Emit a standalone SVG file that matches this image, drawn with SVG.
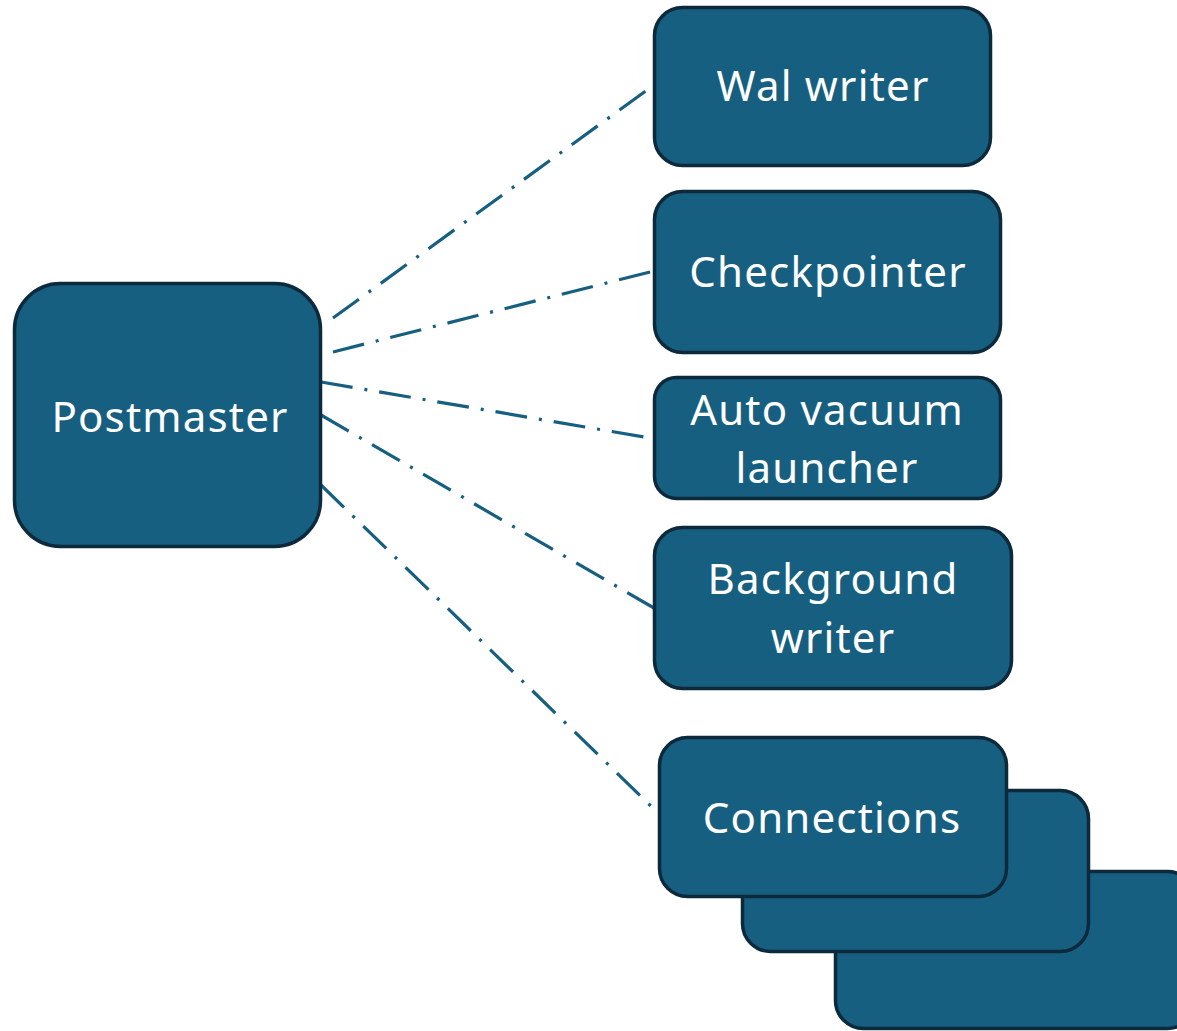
<svg xmlns="http://www.w3.org/2000/svg" width="1177" height="1031" viewBox="0 0 1177 1031">
  <style>
    .box { fill: #175f80; stroke: #0c2a3b; stroke-width: 3.5; }
    .lbl { fill: #ffffff; font-family: "Noto Sans", "Open Sans", sans-serif; font-size: 42px; letter-spacing: 1.2px; text-anchor: middle; }
    .link { stroke: #175f80; stroke-width: 3.2; fill: none; stroke-dasharray: 32 12 3 12; }
  </style>
  <rect width="1177" height="1031" fill="#ffffff"/>

  <!-- dash-dot links from the postmaster to each child process -->
  <g id="connectors">
    <line class="link" x1="333" y1="318" x2="654" y2="85"/>
    <line class="link" x1="333" y1="352" x2="654" y2="271"/>
    <line class="link" x1="321" y1="382" x2="650" y2="438"/>
    <line class="link" x1="321" y1="415" x2="654" y2="608"/>
    <line class="link" x1="321" y1="485" x2="657" y2="812"/>
  </g>

  <g id="postmaster">
    <rect class="box" x="14.5" y="283.5" width="306" height="263" rx="46"/>
    <text class="lbl" x="170" y="432">Postmaster</text>
  </g>

  <g id="wal-writer">
    <rect class="box" x="654.5" y="7.5" width="336" height="158" rx="28"/>
    <text class="lbl" x="823" y="101">Wal writer</text>
  </g>

  <g id="checkpointer">
    <rect class="box" x="654.5" y="191.5" width="346" height="161" rx="28"/>
    <text class="lbl" x="828" y="287">Checkpointer</text>
  </g>

  <g id="autovacuum-launcher">
    <rect class="box" x="654.5" y="377.5" width="346" height="121" rx="22"/>
    <text class="lbl" x="827" y="425">Auto vacuum</text>
    <text class="lbl" x="827" y="483">launcher</text>
  </g>

  <g id="background-writer">
    <rect class="box" x="654.5" y="527.5" width="357" height="161" rx="28"/>
    <text class="lbl" x="833" y="594">Background</text>
    <text class="lbl" x="833" y="653">writer</text>
  </g>

  <!-- stacked cards for the backend connections -->
  <g id="connections">
    <rect class="box" x="835.5" y="871.5" width="360" height="157" rx="28"/>
    <rect class="box" x="742.5" y="790.5" width="346" height="161" rx="28"/>
    <rect class="box" x="659.5" y="737.5" width="347" height="159" rx="28"/>
    <text class="lbl" x="832" y="833">Connections</text>
  </g>
</svg>
